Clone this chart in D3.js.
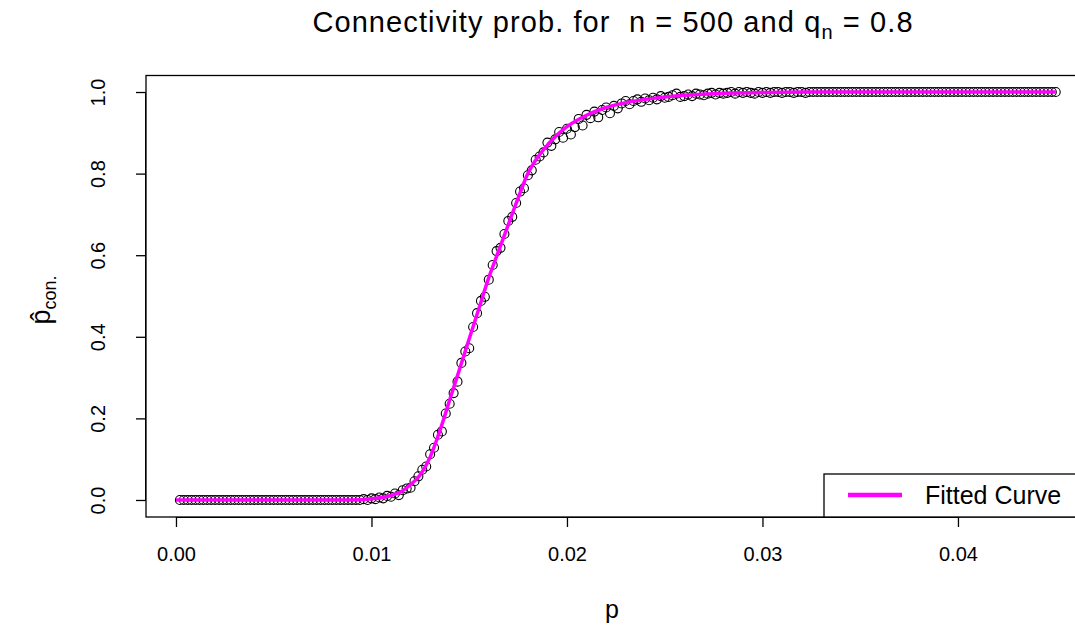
<!DOCTYPE html>
<html>
<head>
<meta charset="utf-8">
<script src="https://cdn.jsdelivr.net/npm/d3@7"></script>
<style>
  body { margin: 0; background: #fff; }
  svg { font-family: "Liberation Sans", Arial, sans-serif; }
</style>
</head>
<body>
<svg id="chart" width="1075" height="629"></svg>
<script>
// simulated connectivity probabilities (p grid and estimated prob.)
var pValues = [
  0.0002, 0.0004, 0.0006, 0.0008, 0.0010, 0.0012, 0.0014, 0.0016, 0.0018, 0.0020,
  0.0022, 0.0024, 0.0026, 0.0028, 0.0030, 0.0032, 0.0034, 0.0036, 0.0038, 0.0040,
  0.0042, 0.0044, 0.0046, 0.0048, 0.0050, 0.0052, 0.0054, 0.0056, 0.0058, 0.0060,
  0.0062, 0.0064, 0.0066, 0.0068, 0.0070, 0.0072, 0.0074, 0.0076, 0.0078, 0.0080,
  0.0082, 0.0084, 0.0086, 0.0088, 0.0090, 0.0092, 0.0094, 0.0096, 0.0098, 0.0100,
  0.0102, 0.0104, 0.0106, 0.0108, 0.0110, 0.0112, 0.0114, 0.0116, 0.0118, 0.0120,
  0.0122, 0.0124, 0.0126, 0.0128, 0.0130, 0.0132, 0.0134, 0.0136, 0.0138, 0.0140,
  0.0142, 0.0144, 0.0146, 0.0148, 0.0150, 0.0152, 0.0154, 0.0156, 0.0158, 0.0160,
  0.0162, 0.0164, 0.0166, 0.0168, 0.0170, 0.0172, 0.0174, 0.0176, 0.0178, 0.0180,
  0.0182, 0.0184, 0.0186, 0.0188, 0.0190, 0.0192, 0.0194, 0.0196, 0.0198, 0.0200,
  0.0202, 0.0204, 0.0206, 0.0208, 0.0210, 0.0212, 0.0214, 0.0216, 0.0218, 0.0220,
  0.0222, 0.0224, 0.0226, 0.0228, 0.0230, 0.0232, 0.0234, 0.0236, 0.0238, 0.0240,
  0.0242, 0.0244, 0.0246, 0.0248, 0.0250, 0.0252, 0.0254, 0.0256, 0.0258, 0.0260,
  0.0262, 0.0264, 0.0266, 0.0268, 0.0270, 0.0272, 0.0274, 0.0276, 0.0278, 0.0280,
  0.0282, 0.0284, 0.0286, 0.0288, 0.0290, 0.0292, 0.0294, 0.0296, 0.0298, 0.0300,
  0.0302, 0.0304, 0.0306, 0.0308, 0.0310, 0.0312, 0.0314, 0.0316, 0.0318, 0.0320,
  0.0322, 0.0324, 0.0326, 0.0328, 0.0330, 0.0332, 0.0334, 0.0336, 0.0338, 0.0340,
  0.0342, 0.0344, 0.0346, 0.0348, 0.0350, 0.0352, 0.0354, 0.0356, 0.0358, 0.0360,
  0.0362, 0.0364, 0.0366, 0.0368, 0.0370, 0.0372, 0.0374, 0.0376, 0.0378, 0.0380,
  0.0382, 0.0384, 0.0386, 0.0388, 0.0390, 0.0392, 0.0394, 0.0396, 0.0398, 0.0400,
  0.0402, 0.0404, 0.0406, 0.0408, 0.0410, 0.0412, 0.0414, 0.0416, 0.0418, 0.0420,
  0.0422, 0.0424, 0.0426, 0.0428, 0.0430, 0.0432, 0.0434, 0.0436, 0.0438, 0.0440,
  0.0442, 0.0444, 0.0446, 0.0448, 0.0450
];

var probValues = [
  0, 0, 0, 0, 0, 0, 0, 0, 0, 0,
  0, 0, 0, 0, 0, 0, 0, 0, 0, 0,
  0, 0, 0, 0, 0, 0, 0, 0, 0, 0,
  0, 0, 0, 0, 0, 0, 0, 0, 0, 0,
  0, 0, 0, 0, 0, 0, 0, 0.002, 0, 0.004,
  0.002, 0.006, 0.004, 0.010, 0.008, 0.016, 0.012, 0.024, 0.028, 0.030,
  0.046, 0.058, 0.074, 0.082, 0.112, 0.128, 0.160, 0.168, 0.212, 0.236,
  0.262, 0.290, 0.336, 0.364, 0.372, 0.424, 0.458, 0.488, 0.498, 0.540,
  0.576, 0.610, 0.618, 0.652, 0.684, 0.694, 0.728, 0.756, 0.764, 0.796,
  0.808, 0.834, 0.842, 0.852, 0.876, 0.868, 0.884, 0.902, 0.888, 0.910,
  0.896, 0.914, 0.934, 0.918, 0.944, 0.936, 0.952, 0.938, 0.956, 0.962,
  0.948, 0.966, 0.960, 0.972, 0.978, 0.970, 0.978, 0.982, 0.976, 0.984,
  0.980, 0.986, 0.982, 0.990, 0.986, 0.988, 0.992, 0.996, 0.988, 0.990,
  0.994, 0.990, 0.996, 0.994, 0.992, 0.996, 0.998, 0.994, 0.998, 0.996,
  0.998, 1, 0.996, 1, 0.998, 1, 0.998, 0.996, 1, 0.998,
  1, 0.998, 1, 1, 0.998, 1, 1, 0.998, 1, 1,
  0.998, 1, 1, 1, 1, 1, 1, 1, 1, 1,
  1, 1, 1, 1, 1, 1, 1, 1, 1, 1,
  1, 1, 1, 1, 1, 1, 1, 1, 1, 1,
  1, 1, 1, 1, 1, 1, 1, 1, 1, 1,
  1, 1, 1, 1, 1, 1, 1, 1, 1, 1,
  1, 1, 1, 1, 1, 1, 1, 1, 1, 1,
  1, 1, 1, 1, 1
];

// fitted curve
var fitP = [0, 0.009, 0.010, 0.011, 0.0115, 0.012, 0.0125, 0.013, 0.0135, 0.014,
  0.0145, 0.015, 0.0155, 0.016, 0.0165, 0.017, 0.0175, 0.018, 0.0185, 0.019,
  0.0195, 0.020, 0.021, 0.022, 0.023, 0.024, 0.025, 0.026, 0.028, 0.030, 0.033, 0.045];
var fitY = [0, 0, 0.003, 0.011, 0.020, 0.038, 0.062, 0.105, 0.170, 0.245,
  0.320, 0.395, 0.470, 0.545, 0.610, 0.675, 0.740, 0.800, 0.840, 0.870,
  0.895, 0.915, 0.943, 0.962, 0.974, 0.982, 0.988, 0.992, 0.997, 0.999, 1, 1];

var xTicks = [0, 0.01, 0.02, 0.03, 0.04];
var yTicks = [0, 0.2, 0.4, 0.6, 0.8, 1.0];

var svg = d3.select('#chart');

var x = d3.scaleLinear()
  .domain([-0.0016, 0.0468])
  .range([144.7, 1090.9]);
var y = d3.scaleLinear()
  .domain([-0.04, 1.04])
  .range([516.3, 75.7]);

var points = pValues.map(function (p, i) { return { p: p, v: probValues[i] }; });
var fit = fitP.map(function (p, i) { return { p: p, v: fitY[i] }; });

// Axes ------------------------ //
var xAxis = svg.append('g')
  .attr('transform', 'translate(0,517)')
  .call(d3.axisBottom(x).tickValues(xTicks).tickSize(10).tickPadding(18)
    .tickFormat(d3.format('.2f')));
xAxis.select('.domain').attr('d', 'M' + x(0) + ',0.5H' + x(0.04));
xAxis.selectAll('line').attr('stroke-width', 1.3);
xAxis.selectAll('text').style('font-size', '20px').attr('fill', '#000')
  .attr('y', 30).attr('dy', '0.71em');

var yAxis = svg.append('g')
  .attr('transform', 'translate(146,0)')
  .call(d3.axisLeft(y).tickValues(yTicks).tickSize(10).tickPadding(0)
    .tickFormat(d3.format('.1f')));
yAxis.select('.domain').attr('d', 'M-0.5,' + y(0) + 'V' + y(1));
yAxis.selectAll('line').attr('stroke-width', 1.3);
yAxis.selectAll('.tick text')
  .attr('x', 0)
  .attr('text-anchor', 'middle')
  .attr('transform', 'translate(-48,0) rotate(-90)')
  .attr('dy', '0.36em')
  .style('font-size', '20px').attr('fill', '#000');

// plot frame
svg.append('rect')
  .attr('x', 146).attr('y', 75.5)
  .attr('width', 945).attr('height', 441.5)
  .attr('fill', 'none').attr('stroke', '#000').attr('stroke-width', 1.3);

// Points ----------------------- //
svg.append('g').selectAll('circle')
  .data(points)
  .enter()
  .append('circle')
  .attr('cx', function (d) { return x(d.p); })
  .attr('cy', function (d) { return y(d.v); })
  .attr('r', 4.5)
  .attr('fill', 'none')
  .attr('stroke', '#000')
  .attr('stroke-width', 1.1);

// Fitted curve ----------------- //
var line = d3.line()
  .x(function (d) { return x(d.p); })
  .y(function (d) { return y(d.v); })
  .curve(d3.curveMonotoneX);
svg.append('path')
  .datum(fit)
  .attr('d', line)
  .attr('fill', 'none')
  .attr('stroke', '#ff00ff')
  .attr('stroke-width', 3.5);

// Legend ----------------------- //
svg.append('rect')
  .attr('x', 824).attr('y', 474)
  .attr('width', 267).attr('height', 43)
  .attr('fill', '#fff').attr('stroke', '#000').attr('stroke-width', 1.3);
svg.append('line')
  .attr('x1', 848).attr('x2', 902)
  .attr('y1', 495).attr('y2', 495)
  .attr('stroke', '#ff00ff').attr('stroke-width', 4.5);
svg.append('text')
  .attr('x', 925).attr('y', 504)
  .style('font-size', '25px')
  .text('Fitted Curve');

// Titles ----------------------- //
var title = svg.append('text')
  .attr('x', 613).attr('y', 32)
  .attr('text-anchor', 'middle')
  .style('font-size', '29px')
  .style('letter-spacing', '1.1px')
  .style('white-space', 'pre');
title.append('tspan').text('Connectivity prob. for  n = 500 and q');
title.append('tspan').attr('dy', 7).style('font-size', '20px').text('n');
title.append('tspan').attr('dy', -7).text(' = 0.8');

svg.append('text')
  .attr('x', 612).attr('y', 618)
  .attr('text-anchor', 'middle')
  .style('font-size', '25px')
  .text('p');

var ylab = svg.append('text')
  .attr('transform', 'translate(50,300) rotate(-90)')
  .attr('text-anchor', 'middle')
  .style('font-size', '27px');
ylab.append('tspan').text('p\u0302');
ylab.append('tspan').attr('dy', 6).style('font-size', '18px').text('con.');
</script>
</body>
</html>
